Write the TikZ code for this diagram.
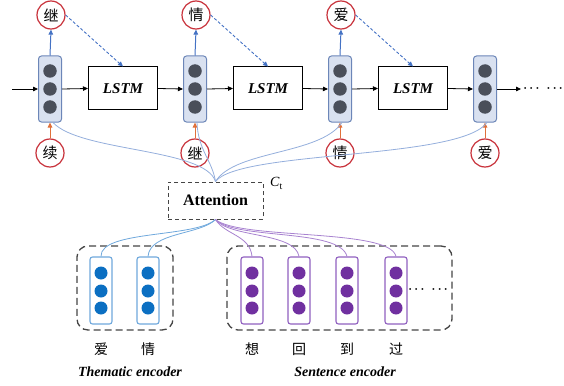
\documentclass[tikz,border=0pt]{standalone}
\usepackage{fontspec}
\setmainfont{Liberation Serif}
\newfontfamily\cjk{Noto Sans CJK SC}
\usetikzlibrary{arrows.meta}
\definecolor{cellfill}{HTML}{D9E1F0}
\definecolor{cellborder}{HTML}{6C86B8}
\definecolor{dotgrey}{HTML}{4A4F5A}
\definecolor{wordred}{HTML}{C8313A}
\definecolor{upblue}{HTML}{4472C4}
\definecolor{inorange}{HTML}{E0703A}
\definecolor{attblue}{HTML}{94AEDC}
\definecolor{thblue}{HTML}{6FA8DC}
\definecolor{thdot}{HTML}{0B6FC2}
\definecolor{purpline}{HTML}{A882D0}
\definecolor{purpborder}{HTML}{9060C0}
\definecolor{purpdot}{HTML}{7030A0}
\definecolor{boxgrey}{HTML}{454545}
\begin{document}
\begin{tikzpicture}[x=1pt,y=-1pt,
  cell/.style={draw=cellborder, fill=cellfill, rounded corners=3pt, minimum width=23pt, minimum height=66pt, line width=1pt, inner sep=0pt},
  gdot/.style={circle, fill=dotgrey, minimum size=13.5pt, inner sep=0pt},
  word/.style={circle, draw=wordred, fill=white, line width=1.2pt, minimum size=28pt, inner sep=0pt, font=\cjk\fontsize{15}{15}\selectfont},
  lstm/.style={draw=black, line width=1pt, minimum width=69pt, minimum height=43pt, inner sep=0pt, font=\bfseries\itshape\fontsize{15}{18}\selectfont},
  flow/.style={-{Triangle[length=5pt,width=4.5pt]}, line width=0.8pt, black},
  upar/.style={-{Triangle[length=5pt,width=4.5pt]}, line width=1pt, upblue},
  inar/.style={-{Triangle[length=5pt,width=4.5pt]}, line width=1pt, inorange},
  fb/.style={-{Triangle[length=5pt,width=4.5pt]}, line width=0.9pt, upblue, dash pattern=on 3pt off 2pt},
  attn/.style={line width=0.8pt, attblue},
  tcurve/.style={line width=0.8pt, thblue},
  pcurve/.style={line width=0.8pt, purpline},
  attbox/.style={draw=boxgrey, line width=1pt, dash pattern=on 4pt off 3pt, minimum width=95pt, minimum height=37pt, inner sep=0pt, font=\bfseries\fontsize{16}{18}\selectfont},
  encbox/.style={draw=boxgrey, line width=1.3pt, dash pattern=on 7pt off 4pt, rounded corners=11pt, minimum height=84pt, inner sep=0pt},
  trect/.style={draw=thblue, fill=white, line width=1.1pt, rounded corners=2.5pt, minimum width=22pt, minimum height=67pt, inner sep=0pt},
  prect/.style={draw=purpborder, fill=white, line width=1.1pt, rounded corners=2.5pt, minimum width=22pt, minimum height=67pt, inner sep=0pt},
  tdot/.style={circle, fill=thdot, minimum size=13pt, inner sep=0pt},
  pdot/.style={circle, fill=purpdot, minimum size=13pt, inner sep=0pt},
  clabel/.style={font=\cjk\fontsize{14}{14}\selectfont},
  title/.style={font=\bfseries\itshape\fontsize{14}{16}\selectfont},
  dots/.style={font=\fontsize{12}{12}\selectfont\boldmath, inner sep=0pt}
]
\useasboundingbox (0,0) rectangle (564,385);

% decoder cells
\foreach \i/\x in {1/50,2/195,3/340,4/485}{
  \node[cell] (c\i) at (\x,89) {};
  \node[gdot] (c\i a) at (\x,71) {};
  \node[gdot] (c\i b) at (\x,89) {};
  \node[gdot] (c\i c) at (\x,107) {};
}
% LSTM boxes
\node[lstm] (l1) at (123,88.5) {LSTM};
\node[lstm] (l2) at (268,88.5) {LSTM};
\node[lstm] (l3) at (413,88.5) {LSTM};

% output words
\node[word] (o1) at (51,15) {继};
\node[word] (o2) at (196,15) {情};
\node[word] (o3) at (341,15) {爱};
% input words
\node[word] (i1) at (50,153) {续};
\node[word] (i2) at (195,153) {继};
\node[word] (i3) at (340,153) {情};
\node[word] (i4) at (485,153) {爱};

% horizontal flow
\coordinate (start) at (12,89);
\coordinate (endp) at (521,89);
\draw[flow] (start) -- (c1.west);
\draw[flow] (c1.east) -- (l1.west);
\draw[flow] (l1.east) -- (c2.west);
\draw[flow] (c2.east) -- (l2.west);
\draw[flow] (l2.east) -- (c3.west);
\draw[flow] (c3.east) -- (l3.west);
\draw[flow] (l3.east) -- (c4.west);
\draw[flow] (c4.east) -- (endp);
\node[dots] (edots) at (543,89) {$\cdots\hspace{5pt}\cdots$};

% up and in arrows
\foreach \i in {1,2,3}{
  \draw[upar] (c\i.north) -- (o\i.south);
  \draw[fb] (o\i.east) -- (l\i.north);
}
\foreach \i in {1,2,3,4}{
  \draw[inar] (i\i.north) -- (c\i.south);
}

% attention
\node[attbox] (att) at (215.5,200.5) {Attention};
\node[font=\fontsize{14}{14}\selectfont, anchor=west, inner sep=0pt] (ct) at (270,183) {\textit{C}\raisebox{-0.45ex}{\fontsize{10}{10}\selectfont t}};

\draw[attn] (att.north) .. controls (205,148) and (80,152) .. ([xshift=3pt]c1.south);
\draw[attn] (att.north) .. controls (212,160) and (198,150) .. ([xshift=2pt]c2.south);
\draw[attn] (att.north) .. controls (235,150) and (320,155) .. ([xshift=2pt]c3.south);
\draw[attn] (att.north) .. controls (240,150) and (460,160) .. ([xshift=2pt]c4.south);

% encoders
\node[encbox, minimum width=96pt] (te) at (125,288) {};
\node[encbox, minimum width=225pt] (se) at (339.5,288) {};

\foreach \i/\x in {1/101,2/148}{
  \node[trect] (t\i) at (\x,290.5) {};
  \node[tdot] at (\x,273) {};
  \node[tdot] at (\x,291) {};
  \node[tdot] at (\x,308) {};
}
\foreach \i/\x in {1/252,2/299,3/347,4/396}{
  \node[prect] (s\i) at (\x,290.5) {};
  \node[pdot] at (\x,273) {};
  \node[pdot] at (\x,291) {};
  \node[pdot] at (\x,308) {};
}
\node[dots] (sdots) at (428,290) {$\cdots\hspace{5pt}\cdots$};

\draw[tcurve] (att.south) .. controls (195,238) and (100,230) .. (t1.north);
\draw[tcurve] (att.south) .. controls (200,235) and (150,232) .. (t2.north);
\draw[pcurve] (att.south) .. controls (225,235) and (250,235) .. (s1.north);
\draw[pcurve] (att.south) .. controls (230,238) and (295,232) .. (s2.north);
\draw[pcurve] (att.south) .. controls (235,240) and (340,228) .. (s3.north);
\draw[pcurve] (att.south) .. controls (240,240) and (390,228) .. (s4.north);

% labels
\node[clabel] (w1) at (101,349) {爱};
\node[clabel] (w2) at (148,349) {情};
\node[clabel] (w3) at (252,349) {想};
\node[clabel] (w4) at (299,349) {回};
\node[clabel] (w5) at (347,349) {到};
\node[clabel] (w6) at (396,349) {过};
\node[title] (tt) at (130,372) {Thematic encoder};
\node[title] (st) at (345,372) {Sentence encoder};
\end{tikzpicture}
\end{document}
